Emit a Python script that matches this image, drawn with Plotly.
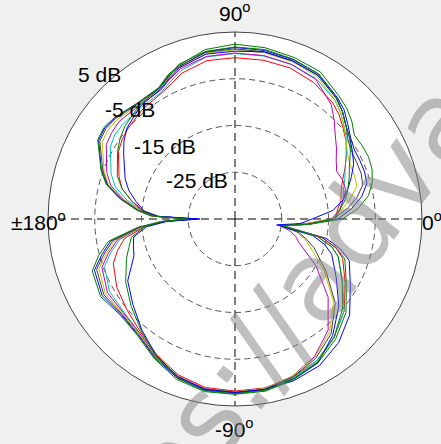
import plotly.graph_objects as go

# Angles in degrees (0 = right, counter-clockwise)
THETA = [0, 5, 10, 15, 20, 25, 30, 35, 40, 45, 50, 60, 70, 80, 90, 100, 110, 115, 120,
         130, 140, 145, 150, 160, 165, 170, 175, 178, 180, 182, 185, 190, 195, 200, 210,
         220, 230, 240, 250, 260, 270, 280, 290, 300, 310, 320, 330, 340, 344, 348, 352, 356]

# Gain in dB for each measurement
B1 = [-13, -10, -7.5, -5.8, -5.5, -5.5, -5.5, -4.8, -3.5, -2, -1, 0.8, 1.3, 1.6, 1.7, 1.3, -0.3, -1.2, -2.6,
      -2.6, -1.4, -1, -1.3, -4.6, -6.6, -10.2, -14.2, -17.5, -27, -20, -14.5, -8, -5.5, -3, -2.2,
      -3.2, -2.7, -0.7, 1.2, 2.2, 2.2, 2.1, 1.8, 1.2, -0.5, -3, -6.5, -9, -11.5, -15, -25, -19.5]
G1 = [-12, -8.5, -6, -4.6, -3.8, -3.5, -3.6, -3.8, -2.4, -1.3, -0.5, 1.4, 1.8, 2.2, 2.4, 1.8, 0, -1.0, -2.5,
      -2.6, -1.3, -0.8, -1.1, -4.5, -6.5, -10, -14, -17, -24.6, -19, -14, -7.5, -4.8, -2.5, -1.8,
      -3.0, -2.5, -0.5, 1.5, 2.5, 2.5, 2.4, 1.6, 0.5, -1.5, -4, -7.5, -10, -12.5, -16, -24.5, -19]
R = [-13.5, -13, -12, -11.5, -10.5, -9, -7.5, -6, -4.8, -3.5, -2.5, -1.3, -0.6, -0.5, -0.5, -0.6, -1.8, -3.0, -3.8,
     -4.3, -5.0, -5.5, -6.2, -8.6, -10, -12.5, -15.5, -18.5, -26, -20, -15.5, -11, -9, -7.3, -5.8,
     -4.8, -3.5, -1.5, 0.5, 1.6, 1.8, 1.7, 1.0, 0, -2, -4.5, -7.8, -10.5, -12.5, -16, -24.5, -19]
C = [-13.5, -12.5, -11.5, -11, -10, -9, -7.5, -5.8, -4.5, -3, -1.8, -0.3, 0.2, 0.4, 0.4, 0.2, -1.2, -2.5, -3.6,
     -3.8, -3.6, -3.6, -4.2, -6.8, -8.5, -11.5, -15, -18, -25, -19.5, -15, -10, -7.5, -5.3, -4,
     -4, -3.2, -1.2, 0.8, 1.9, 2.0, 1.9, 1.2, 0, -2, -4.5, -8.5, -11.5, -13.5, -17, -24.5, -19]
M = [-14.5, -12.5, -11.5, -10.5, -10.5, -11, -10, -8.5, -7, -5, -3, -0.5, 0.2, 0.5, 0.5, 0.3, -0.8, -2, -3.2,
     -3.2, -2.6, -2.8, -3.2, -5.8, -7.5, -10.8, -14.5, -17.8, -26, -20, -15, -9.5, -7, -4.7, -3.5,
     -3.8, -3.2, -1.2, 0.8, 1.9, 2.0, 1.8, 0.8, -1, -4, -9, -15, -20.5, -21.5, -23, -25.5, -20]
Y = [-14.5, -12, -10, -8, -7.8, -7.8, -7.2, -6, -4.5, -3, -1.7, 0.2, 0.8, 1.1, 1.2, 1.0, -0.4, -1.6, -3,
     -3, -2, -1.8, -2.2, -5.2, -7, -10.5, -14.5, -17.5, -25.5, -19.5, -15, -9, -6.5, -4, -3,
     -3.6, -3, -1.0, 0.9, 2.0, 2.0, 1.8, 0.8, -0.8, -3.5, -7.5, -13, -18, -19.5, -21.5, -25, -20]
K = [-14, -11, -8.5, -6.7, -6.3, -6.3, -6.2, -5.5, -4, -2.5, -1.3, 0.5, 1, 1.3, 1.4, 1.2, -0.2, -1.3, -2.7,
     -2.8, -1.6, -1.3, -1.6, -4.9, -6.8, -10.3, -14.3, -17.5, -25.5, -19.5, -14.5, -8.5, -6, -3.5, -2.6,
     -3.4, -2.8, -0.9, 1.0, 2.0, 2.1, 2.0, 1.0, -0.5, -3, -7, -12.5, -17, -19, -21, -25, -19.5]
B2 = [-18.5, -14, -11.5, -10, -8.5, -7, -6, -5, -4, -2.5, -1.2, 0.5, 1, 1.3, 0.9, 0.8, -0.5, -1.8, -3,
      -3.5, -4.8, -6, -7.5, -10, -11.5, -13.5, -15.5, -18.5, -27.5, -20.5, -16, -13, -12.5, -12, -8.5,
      -6.5, -4, -1.3, 0.9, 2.0, 2.1, 2.0, 1.4, 0.5, -2.5, -6, -10, -13, -15, -18, -26, -21]
G2 = [-14, -12.5, -11, -10, -9, -8, -6.5, -5, -4, -2.5, -1.3, 0.8, 1.4, 1.8, 1.8, 1.4, 0.2, -1.5, -2.7,
      -3.2, -4.2, -5, -6, -8.2, -10, -12.5, -15, -18, -25, -19.5, -15.5, -12.5, -11.5, -10.3, -8,
      -6, -3.8, -1.2, 1.2, 2.3, 2.4, 2.2, 1.4, 0.3, -2, -5, -8.5, -11.5, -13.5, -17, -25, -19]

SERIES = [("B1", B1, "rgb(0,0,255)"), ("G1", G1, "rgb(0,128,0)"), ("R", R, "rgb(255,0,0)"),
          ("C", C, "rgb(0,191,191)"), ("M", M, "rgb(191,0,191)"), ("Y", Y, "rgb(191,191,0)"),
          ("K", K, "rgb(64,64,64)"), ("B2", B2, "rgb(0,0,255)"), ("G2", G2, "rgb(0,128,0)")]

RING_VALS = [-25, -15, -5, 5]
RING_TEXT = ["-25 dB", "-15 dB", "-5 dB", "5 dB"]
ANG_TEXT = ["0<sup>o</sup>", "90<sup>o</sup>", "\u00b1180<sup>o</sup>", "-90<sup>o</sup>"]

fig = go.Figure()
for name, vals, col in SERIES:
    fig.add_trace(go.Scatterpolar(r=vals + vals[:1], theta=THETA + THETA[:1], mode="lines",
                                  line=dict(color=col, width=1), name=name, showlegend=False))

W, H = 441, 444
cx, cy, rad = 235, 219, 187
fig.update_layout(
    width=W, height=H, margin=dict(l=0, r=0, t=0, b=0),
    paper_bgcolor="#f0f0f0",
    font=dict(family="Liberation Sans, Arial", size=21, color="black"),
    polar=dict(
        domain=dict(x=[(cx - rad) / W, (cx + rad) / W], y=[(H - cy - rad) / H, (H - cy + rad) / H]),
        bgcolor="white",
        radialaxis=dict(range=[-35, 5], tickvals=RING_VALS[:3], showticklabels=False, ticks="",
                        showline=False, gridcolor="#555555", griddash="6px,4px", gridwidth=1),
        angularaxis=dict(rotation=0, direction="counterclockwise", tickvals=[0, 90, 180, 270],
                         showticklabels=False, ticks="", gridcolor="black", griddash="8px,5px",
                         gridwidth=1, showline=True, linecolor="#444444", linewidth=1),
    ),
)

def px(x, y):
    return dict(x=x / W, y=1 - y / H, xref="paper", yref="paper")

# radial labels
lab_pos = [(197, 180), (165, 146), (130, 109), (99, 75)]
for (x, y), t in zip(lab_pos, RING_TEXT):
    fig.add_annotation(text=t, showarrow=False, xanchor="center", yanchor="middle", **px(x, y))
# angular labels
fig.add_annotation(text=ANG_TEXT[0], showarrow=False, xanchor="left", yanchor="middle", **px(420, 221))
fig.add_annotation(text=ANG_TEXT[1], showarrow=False, xanchor="center", yanchor="middle", **px(235, 12))
fig.add_annotation(text=ANG_TEXT[2], showarrow=False, xanchor="right", yanchor="middle", **px(68, 221))
fig.add_annotation(text=ANG_TEXT[3], showarrow=False, xanchor="center", yanchor="middle", **px(235, 428))
# watermark
fig.add_annotation(text="https://advan", showarrow=False, textangle=-52, xanchor="center", yanchor="middle",
                   font=dict(family="DejaVu Sans", size=110, color="rgba(128,128,128,0.5)"), **px(275, 330))

fig.write_html("out.html", config={"displayModeBar": False},
               post_script="document.body.style.margin='0';document.body.style.overflow='hidden';")
